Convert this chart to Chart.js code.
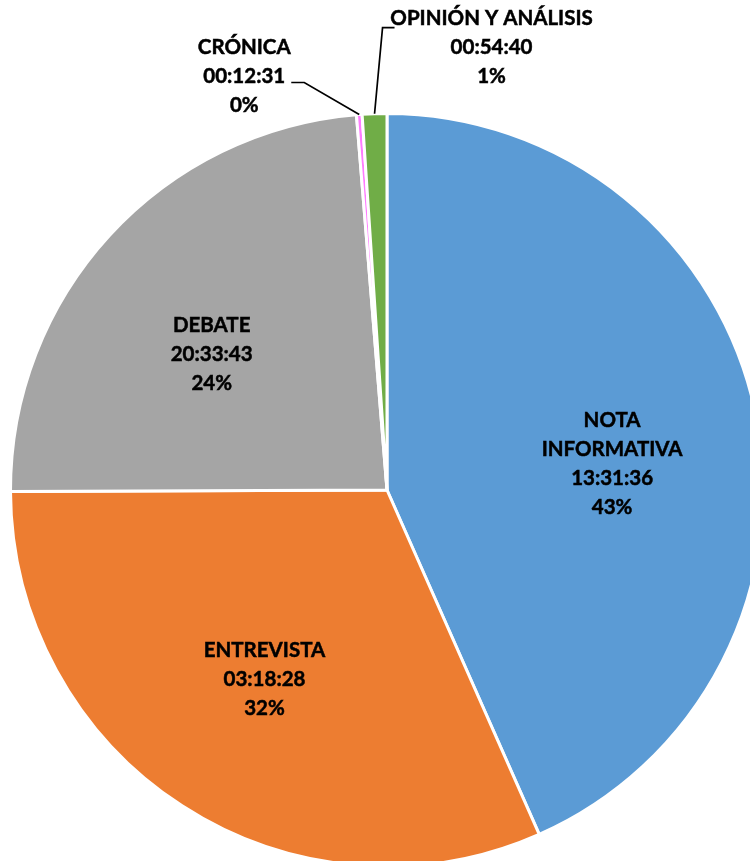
<!DOCTYPE html>
<html>
<head>
<meta charset="utf-8">
<script src="https://cdn.jsdelivr.net/npm/chart.js@4.4.0/dist/chart.umd.min.js"></script>
<style>
  html, body { margin: 0; padding: 0; background: #fff; overflow: hidden; width: 750px; height: 861px; }
  #wrap { position: absolute; left: 0; top: 0; width: 774px; height: 880px; }
</style>
</head>
<body>
<div id="wrap"><canvas id="chart-pie" width="774" height="880"></canvas></div>
<script>
// slices, clockwise from 12 o'clock
var categories = ['NOTA INFORMATIVA', 'ENTREVISTA', 'DEBATE', 'CRÓNICA', 'OPINIÓN Y ANÁLISIS'];
var nameLines = [['NOTA', 'INFORMATIVA'], ['ENTREVISTA'], ['DEBATE'], ['CRÓNICA'], ['OPINIÓN Y ANÁLISIS']];
var durations = ['13:31:36', '03:18:28', '20:33:43', '00:12:31', '00:54:40'];
// total seconds per category (the printed times wrap past 24h: 37:31:36, 27:18:28)
var seconds = [135096, 98308, 74023, 751, 3280];
var percents = ['43%', '32%', '24%', '0%', '1%'];
var colors = ['#5B9BD5', '#ED7D31', '#A5A5A5', '#FF7CFF', '#70AD47'];

// where each label goes: inside at a fraction of the radius, or outside with a leader line
var place = [
  { r: 0.602, turn: 5.2 },
  { r: 0.598, turn: 0 },
  { r: 0.589, turn: -4.8 },
  { outside: true, dx: -115, dy: -38, elbow: [-55, -32], end: [-68, -32] },
  { outside: true, dx: 117, dy: -66, elbow: [8, -86], end: [20, -86] }
];

var labelFont = 'bold 20.5px Lato';
var lineGap = 29;

var pieLabels = {
  id: 'pieLabels',
  afterDatasetsDraw: function(chart) {
    var ctx = chart.ctx;
    var arcs = chart.getDatasetMeta(0).data;
    ctx.save();
    ctx.font = labelFont;
    ctx.textAlign = 'center';
    ctx.textBaseline = 'middle';
    arcs.forEach(function(arc, i) {
      var p = arc.getProps(['x', 'y', 'startAngle', 'endAngle', 'outerRadius'], true);
      var opt = place[i];
      var mid = (p.startAngle + p.endAngle) / 2 + (opt.turn || 0) * Math.PI / 180;
      var lines = nameLines[i].concat([durations[i], percents[i]]);
      var cx, cy;
      ctx.strokeStyle = '#000';
      if (opt.outside) {
        var ex = p.x + Math.cos(mid) * p.outerRadius;
        var ey = p.y + Math.sin(mid) * p.outerRadius;
        cx = ex + opt.dx;
        cy = ey + opt.dy;
        ctx.lineWidth = 1.7;
        ctx.beginPath();
        ctx.moveTo(ex, ey);
        ctx.lineTo(ex + opt.elbow[0], ey + opt.elbow[1]);
        ctx.lineTo(ex + opt.end[0], ey + opt.end[1]);
        ctx.stroke();
      } else {
        cx = p.x + Math.cos(mid) * p.outerRadius * opt.r;
        cy = p.y + Math.sin(mid) * p.outerRadius * opt.r;
      }
      var n = lines.length;
      ctx.fillStyle = '#000';
      ctx.lineWidth = 0.5;  // thicken the strokes a little, closer to the heavier bold
      lines.forEach(function(t, k) {
        var ty = cy + (k - (n - 1) / 2) * lineGap;
        ctx.fillText(t, cx, ty);
        ctx.strokeText(t, cx, ty);
      });
    });
    ctx.restore();
  }
};

var ctx = document.getElementById('chart-pie').getContext('2d');
var myChart = new Chart(ctx, {
  type: 'pie',
  data: {
    labels: categories,
    datasets: [{
      data: seconds,
      backgroundColor: colors,
      borderColor: '#fff',
      borderWidth: 3,
      hoverOffset: 0
    }]
  },
  options: {
    responsive: false,
    animation: false,
    layout: { padding: { left: 9, right: 9, top: 112, bottom: 12 } },
    plugins: {
      legend: { display: false },
      tooltip: { enabled: false }
    }
  },
  plugins: [pieLabels]
});
</script>
</body>
</html>
